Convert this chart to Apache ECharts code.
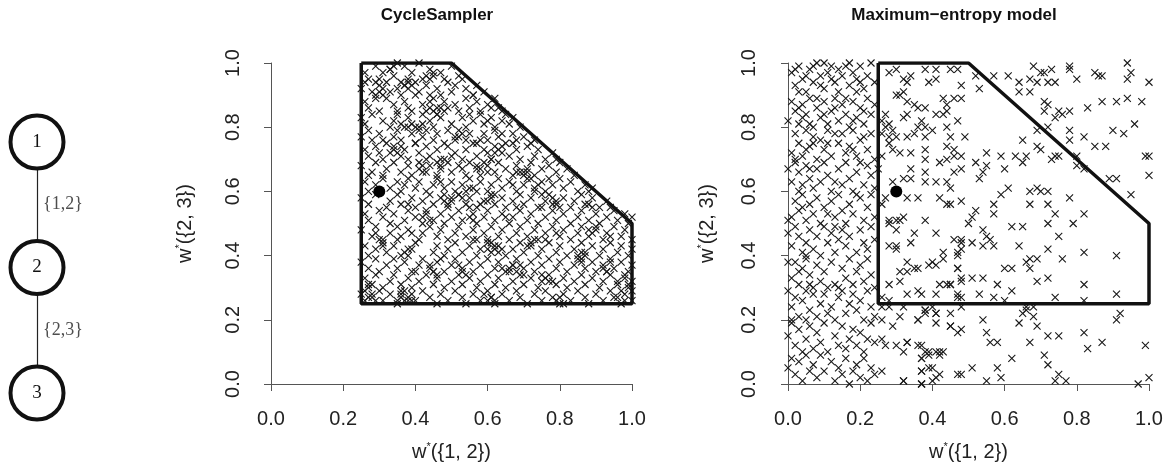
<!DOCTYPE html>
<html>
<head>
<meta charset="utf-8">
<script src="https://cdn.jsdelivr.net/npm/echarts@6/dist/echarts.min.js"></script>
<style>
  html, body { margin: 0; padding: 0; background: #fff; }
  #chart { width: 1172px; height: 470px; }
</style>
</head>
<body>
<div id="chart"></div>
<script>
// axis ticks (both panels use the unit square)
const ticks = [0, 0.2, 0.4, 0.6, 0.8, 1.0];

// feasible region drawn as a thick outline
const boxX = [0.25, 0.5, 1, 1, 0.25, 0.25];
const boxY = [1, 1, 0.5, 0.25, 0.25, 1];

// the single filled point
const truePoint = [0.3, 0.6];

// small path graph on the left
const graphNodes = ['1', '2', '3'];
const graphEdges = [['1', '2'], ['2', '3']];
const edgeLabels = ['{1,2}', '{2,3}'];

// samples, in hundredths: [w{1,2}, w{2,3}]
const cycleSamples = [
  [26,97],[29,99],[30,95],[33,98],[34,96],[37,99],[38,95],[39,97],[41,100],[43,96],[44,98],[47,97],[48,95],[50,99],[52,96],[27,95],[35,100],[45,96],[31,97],[42,95],
  [25,92],[26,94],[28,91],[30,93],[31,90],[32,94],[35,92],[36,90],[37,93],[40,94],[41,91],[43,93],[44,90],[46,92],[49,94],[50,91],[51,93],[53,95],[54,92],[56,90],[57,93],[59,91],[33,91],[38,94],[47,90],[29,94],
  [26,88],[27,86],[30,85],[32,89],[34,87],[35,85],[37,88],[38,86],[40,90],[42,87],[43,85],[45,89],[46,86],[48,88],[51,87],[52,85],[54,89],[55,86],[57,88],[58,85],[60,87],[62,89],[63,86],[64,85],[44,88],[39,85],[49,86],[29,89],[56,90],[61,86],
  [25,83],[26,81],[28,84],[31,82],[33,80],[35,84],[36,81],[38,83],[39,81],[41,80],[42,84],[44,82],[45,80],[47,83],[48,85],[50,81],[53,83],[54,80],[56,82],[58,84],[59,81],[61,83],[62,80],[64,82],[66,81],[67,83],[69,80],[37,80],[46,84],[55,84],[60,82],[65,84],[34,82],
  [25,77],[27,79],[28,76],[30,78],[32,75],[34,77],[35,79],[36,76],[39,78],[40,75],[42,77],[43,79],[45,76],[46,78],[48,75],[51,77],[52,79],[54,76],[55,78],[57,75],[59,78],[60,76],[62,79],[63,77],[65,75],[67,78],[68,76],[70,77],[72,75],[73,76],[38,80],[49,79],[58,76],[64,78],[31,76],
  [26,73],[27,71],[29,74],[31,70],[33,72],[34,74],[36,71],[37,73],[38,70],[41,72],[43,74],[44,71],[46,73],[47,70],[49,74],[51,72],[53,70],[54,73],[56,75],[57,71],[59,73],[61,70],[62,74],[64,72],[66,71],[68,73],[69,70],[71,74],[73,71],[74,73],[76,70],[78,72],[79,70],[40,75],[50,71],[60,72],[67,75],[30,72],
  [25,68],[28,66],[29,69],[31,65],[32,67],[34,69],[36,66],[38,68],[39,65],[41,69],[42,66],[44,68],[46,65],[47,67],[49,69],[50,66],[52,68],[54,65],[55,69],[57,67],[58,65],[60,68],[62,66],[63,69],[65,67],[67,65],[68,68],[70,66],[72,69],[73,65],[75,67],[77,68],[79,66],[80,69],[82,67],[84,65],[43,70],[53,67],[61,70],[71,67],[27,65],
  [26,63],[27,60],[29,62],[31,64],[33,61],[35,63],[36,60],[38,64],[40,61],[41,63],[43,60],[45,62],[46,64],[48,61],[50,63],[51,60],[53,62],[55,64],[56,61],[58,63],[60,60],[61,62],[63,64],[64,61],[66,63],[68,60],[70,62],[71,64],[73,61],[75,63],[76,60],[78,62],[80,64],[81,61],[83,63],[85,60],[87,62],[88,60],[89,61],[37,62],[47,63],[57,60],[67,62],[77,64],
  [25,58],[27,56],[29,59],[32,55],[33,57],[35,59],[36,56],[39,58],[40,55],[42,57],[44,59],[45,56],[47,58],[49,55],[50,57],[52,59],[54,56],[55,58],[57,55],[59,57],[61,59],[62,56],[64,58],[65,55],[67,57],[69,59],[70,56],[72,58],[74,55],[76,57],[77,59],[79,56],[81,58],[83,55],[84,57],[86,59],[88,56],[89,58],[91,55],[93,57],[94,55],[38,56],[48,59],[58,56],[68,55],[78,58],[87,56],
  [26,53],[27,51],[30,54],[31,52],[33,50],[34,53],[37,51],[38,54],[40,52],[42,50],[43,54],[45,51],[47,53],[48,50],[50,52],[52,54],[53,51],[56,53],[57,50],[59,52],[60,54],[62,51],[64,53],[66,50],[67,52],[69,54],[71,51],[72,53],[74,50],[76,52],[78,54],[79,51],[81,53],[83,50],[85,52],[86,54],[88,51],[90,53],[91,50],[93,52],[95,54],[96,51],[98,53],[99,50],[100,52],[55,55],[65,52],[75,55],[89,55],
  [25,48],[28,46],[29,49],[31,45],[33,47],[35,49],[36,46],[38,48],[41,45],[42,47],[44,49],[46,46],[47,48],[49,45],[51,47],[52,49],[54,46],[56,48],[57,45],[59,47],[61,49],[63,46],[64,48],[66,45],[68,47],[69,49],[71,46],[73,48],[74,45],[76,47],[78,49],[80,46],[81,48],[83,45],[85,47],[86,49],[88,46],[90,48],[92,45],[93,47],[95,49],[97,46],[98,48],[100,45],[39,47],[60,45],[79,47],[94,46],
  [26,43],[27,40],[29,42],[31,44],[32,41],[34,43],[36,40],[38,42],[40,44],[45,41],[46,43],[48,40],[49,42],[51,44],[53,41],[55,43],[57,40],[58,42],[60,44],[61,41],[62,42],[63,43],[65,40],[67,42],[69,44],[70,41],[72,43],[74,40],[75,42],[77,44],[79,41],[80,43],[82,40],[84,42],[86,44],[87,41],[89,43],[91,40],[92,42],[94,44],[96,41],[97,43],[99,40],[100,42],[35,45],[56,45],[76,45],[85,39],
  [25,38],[27,36],[29,39],[30,35],[32,37],[34,39],[35,36],[37,38],[39,35],[41,37],[42,39],[44,36],[46,38],[48,35],[50,37],[51,39],[53,36],[55,38],[56,35],[58,37],[60,39],[62,36],[63,38],[65,35],[67,37],[68,39],[70,36],[72,38],[73,35],[75,37],[77,39],[79,36],[80,38],[82,35],[84,37],[86,39],[87,36],[89,38],[90,35],[92,37],[94,39],[95,36],[97,38],[99,35],[100,37],[45,35],[64,36],[93,35],[47,39],
  [26,33],[28,31],[29,34],[31,30],[33,32],[34,34],[36,31],[38,33],[39,30],[41,32],[43,34],[45,31],[46,33],[48,30],[50,32],[52,34],[53,31],[55,33],[57,30],[58,32],[60,34],[62,31],[63,33],[65,30],[67,32],[69,34],[70,31],[72,33],[74,30],[75,32],[77,34],[79,31],[81,33],[82,30],[84,32],[86,34],[87,31],[89,33],[91,30],[92,32],[94,34],[96,31],[98,33],[99,30],[100,32],[40,35],[66,35],[78,32],
  [25,28],[26,26],[28,27],[30,29],[31,26],[33,28],[35,25],[36,27],[37,29],[38,26],[39,28],[40,26],[42,29],[44,27],[46,25],[47,28],[49,26],[51,29],[53,27],[54,25],[56,28],[58,26],[60,29],[61,27],[62,25],[64,28],[66,26],[68,29],[69,27],[71,25],[73,28],[75,26],[76,29],[78,27],[80,25],[81,28],[83,26],[85,29],[87,27],[88,25],[90,28],[92,26],[94,29],[95,27],[97,25],[98,28],[100,26],[100,29],[27,30],
  // visible clumps
  [27,27],[28,28],[26,29],[29,26],[27,31],[35,26],[36,28],[37,26],[38,27],[36,29],[39,26],[60,26],[61,27],[59,28],[62,26],[79,26],[80,27],[81,25],
  [96,27],[97,29],[98,26],[99,31],[96,32],[98,34],[93,35],[94,38],[92,36],[85,40],[86,38],[87,40],[86,41],[60,42],[62,43],[63,41],[61,44],[64,42],
  [67,37],[68,35],[69,37],[66,36],[70,34],[72,44],[73,45],[71,43],[45,35],[46,34],[44,37],[53,35],[52,37],[54,34],[30,45],[31,43],[29,47],[38,40],[39,42],[37,41],
  [43,53],[44,51],[42,52],[48,57],[50,58],[49,56],[53,58],[54,60],[52,59],[55,61],[61,58],[62,59],[60,57],[70,65],[71,66],[69,66],[72,64],[68,66],[73,60],[74,62],[75,59],
  [78,56],[80,55],[79,57],[58,67],[59,69],[57,68],[60,66],[47,68],[48,70],[46,69],[42,68],[43,66],[41,67],[35,72],[36,74],[34,73],[41,79],[42,81],[40,80],
  [45,85],[46,84],[47,86],[44,86],[37,93],[38,92],[36,94],[39,93],[30,91],[31,92],[29,90],[33,98],[34,99],[44,95],[45,97],[52,77],[53,78],[51,76],[63,73],[64,74],[62,72],
  [55,52],[56,51],[88,48],[89,47],[90,49],[76,33],[77,32],[75,34]
];

const maxEntSamples = [
  // dense strip, w{1,2} < 0.25
  [1,97],[2,93],[3,99],[4,95],[5,91],[6,98],[7,94],[8,100],[9,96],[10,92],[11,97],[12,99],[13,94],[14,91],[15,96],[16,99],[17,93],[18,97],[19,95],[20,99],[21,92],[22,96],[23,100],[24,94],[3,91],[5,96],[7,99],[9,93],[12,95],[14,98],[17,100],[19,91],[20,94],[2,98],[10,100],
  [0,82],[1,88],[2,85],[3,81],[4,87],[5,84],[6,89],[7,80],[8,86],[9,83],[10,88],[11,81],[12,85],[13,89],[14,82],[15,87],[16,84],[17,80],[18,88],[19,83],[20,86],[21,81],[22,89],[23,84],[24,87],[4,83],[6,81],[8,89],[10,84],[13,86],[16,89],[18,82],[21,85],[3,86],
  [1,72],[2,78],[3,75],[4,71],[5,79],[6,74],[7,77],[8,70],[9,76],[10,73],[11,79],[12,71],[14,75],[15,78],[16,72],[17,74],[18,79],[19,71],[20,76],[22,73],[23,78],[24,70],[2,70],[5,73],[7,75],[11,75],[13,78],[18,73],[21,77],
  [0,67],[1,63],[2,69],[3,66],[4,62],[5,68],[6,64],[7,61],[8,67],[9,63],[10,69],[11,65],[12,60],[14,67],[15,62],[16,69],[17,64],[18,60],[19,66],[21,62],[22,68],[23,65],[24,61],[3,60],[6,67],[13,63],[20,69],[25,67],
  [1,52],[2,57],[3,54],[4,59],[5,51],[6,56],[7,53],[8,58],[9,50],[10,55],[12,57],[13,52],[14,59],[15,54],[16,50],[17,56],[18,53],[20,58],[21,51],[22,55],[23,59],[24,52],[0,51],[4,55],[11,53],[19,59],
  [0,47],[1,43],[2,49],[3,46],[4,41],[5,44],[6,48],[7,42],[8,46],[9,40],[10,49],[11,44],[12,47],[13,41],[14,45],[15,48],[16,43],[17,46],[19,41],[20,48],[21,44],[22,42],[23,49],[24,45],[5,40],[13,49],
  [1,33],[2,38],[3,31],[4,36],[5,39],[6,34],[7,30],[8,37],[9,32],[10,35],[12,38],[13,31],[14,30],[15,36],[16,33],[17,39],[18,31],[19,35],[20,37],[21,32],[22,39],[23,34],[24,30],[0,38],[3,35],[6,31],[11,30],
  [0,29],[1,24],[2,27],[3,21],[4,26],[5,29],[6,23],[7,28],[8,21],[9,25],[10,28],[12,24],[13,20],[14,27],[15,29],[16,22],[17,25],[18,28],[19,23],[20,26],[21,20],[22,29],[23,24],[24,21],[1,20],[11,22],
  [0,15],[1,19],[2,12],[3,17],[4,10],[5,14],[6,18],[7,11],[8,16],[9,13],[10,19],[11,10],[13,15],[14,12],[15,18],[16,11],[17,14],[18,17],[19,12],[20,16],[21,10],[22,14],[23,19],[24,13],[5,20],
  [0,5],[1,8],[2,3],[3,7],[4,1],[5,9],[6,4],[7,6],[8,2],[9,9],[10,4],[12,7],[13,1],[14,5],[15,3],[16,8],[17,0],[18,4],[19,6],[20,2],[21,8],[22,1],[23,5],[24,3],
  // 0.25 to 0.5, upper half
  [28,97],[30,98],[32,95],[34,96],[33,94],[30,90],[31,90],[32,91],[33,88],[35,87],[38,98],[41,98],[39,94],[41,95],[45,98],[47,98],[48,93],[43,89],[44,87],[46,89],[48,89],[36,86],[38,86],[41,84],[44,85],[43,84],[33,84],[32,83],[27,84],[26,82],[27,80],[28,81],[26,78],[29,79],[28,77],[30,77],[33,77],[36,80],[35,78],[37,82],[38,80],[40,79],[38,77],[44,80],[47,82],[45,77],[44,74],[46,73],[49,77],[28,75],[29,73],[31,72],[34,72],[38,73],[38,70],[42,69],[44,70],[46,71],[48,71],[34,67],[38,66],[46,66],[48,67],[26,71],[29,63],[32,64],[34,64],[38,63],[41,63],[44,63],[45,61],[33,58],[36,58],[27,58],[26,56],[28,51],[30,51],[32,52],[38,51],[42,58],[44,56],[45,56],[48,57],
  // 0.25 to 0.5, lower half
  [28,50],[30,48],[31,51],[35,47],[34,44],[41,47],[30,43],[28,43],[30,42],[46,45],[48,44],[47,41],[43,41],[43,39],[40,38],[41,37],[39,37],[33,38],[35,36],[36,36],[31,35],[33,35],[31,32],[28,31],[33,28],[36,29],[37,28],[42,31],[44,31],[45,31],[47,36],[48,32],[48,27],[47,28],[41,28],[26,27],[28,26],
  [26,24],[28,24],[32,24],[31,21],[26,20],[36,20],[38,22],[41,22],[38,23],[40,24],[29,18],[45,18],[48,17],[33,13],[26,14],[27,12],[30,12],[32,10],[36,12],[38,10],[37,8],[39,9],[42,10],[37,4],[40,5],[42,3],[37,0],[32,1],[48,3],[26,4],
  // sparse right side
  [68,99],[78,99],[78,98],[94,100],[95,97],[94,95],[100,94],[86,96],[87,96],[85,97],[80,95],[70,97],[71,97],[73,98],[69,94],[72,94],[74,94],[67,95],[64,94],[61,96],[57,96],[53,92],[52,96],[64,91],[67,91],[71,88],[72,87],[87,88],[91,88],[94,89],[98,88],[83,86],[75,85],[74,83],[76,84],[78,85],[71,85],
  [93,78],[90,79],[96,81],[82,77],[85,74],[88,74],[78,79],[78,76],[74,71],[75,71],[73,70],[69,74],[70,73],[65,76],[72,80],[69,79],[80,71],[80,68],[82,67],[89,64],[91,64],[100,65],[99,71],[100,71],[95,59],[78,58],[82,53],[79,50],[72,56],[74,53],[72,50],[75,46],[72,42],[76,39],[82,41],[91,40],[82,31],[74,27],[82,26],[91,28],
  [69,61],[70,60],[72,60],[67,60],[65,49],[67,56],[67,39],[66,38],[67,36],[69,39],[72,33],[69,32],[64,43],[62,49],[62,36],[60,36],[58,31],[62,29],[60,26],[57,27],[54,33],[53,28],[51,33],[48,33],[47,36],[45,31],[47,27],
  [65,69],[60,67],[59,71],[63,71],[66,71],[55,68],[52,69],[54,66],[53,64],[55,72],[59,59],[61,61],[57,56],[54,48],[55,46],[56,45],[57,43],[51,52],[50,50],[52,54],[51,44],[54,43],[48,45],[48,42],[47,40],[57,53],
  [54,20],[55,16],[56,13],[58,13],[58,5],[59,2],[55,1],[51,5],[62,8],[64,19],[65,22],[66,24],[66,23],[68,24],[68,21],[69,18],[67,13],[71,9],[72,6],[72,15],[75,15],[75,3],[74,1],[77,1],[82,16],[83,11],[87,13],[91,20],[92,22],[99,12],[100,2],[97,0],
  [48,24],[45,22],[47,16],[45,18],[47,3],[43,10],[41,10],[39,10],[42,9],[41,2],[40,1],[39,5],[37,12],[37,8],[37,4],[37,0],[32,1],[33,13],[41,22],[41,19],[38,23],[36,20]
];

const FONT = '"Liberation Sans", Arial, Helvetica, sans-serif';
const SERIF = '"Liberation Serif", "DejaVu Serif", serif';
const AXIS_GREY = '#555';

const toUnit = p => [p[0] / 100, p[1] / 100];

function xAxisFor(grid) {
  return {
    gridIndex: grid, type: 'value', min: ticks[0], max: ticks[ticks.length - 1], interval: 0.2,
    position: 'bottom', offset: 13,
    axisLine: { lineStyle: { color: AXIS_GREY, width: 1 } },
    axisTick: { length: 7, lineStyle: { color: AXIS_GREY, width: 1 } },
    axisLabel: { fontSize: 20, fontFamily: FONT, color: '#222', margin: 12, formatter: v => v.toFixed(1) },
    splitLine: { show: false },
    name: 'w{s|*}({1, 2})', nameLocation: 'middle', nameGap: 44,
    nameTextStyle: { fontSize: 20, fontFamily: FONT, color: '#222',
      rich: { s: { fontSize: 11, fontFamily: FONT, color: '#222', padding: [0, 0, 12, 0] } } }
  };
}

function yAxisFor(grid, offset, nameGap) {
  return {
    gridIndex: grid, type: 'value', min: ticks[0], max: ticks[ticks.length - 1], interval: 0.2,
    position: 'left', offset: offset,
    axisLine: { lineStyle: { color: AXIS_GREY, width: 1 } },
    axisTick: { length: 7, lineStyle: { color: AXIS_GREY, width: 1 } },
    axisLabel: { fontSize: 20, fontFamily: FONT, color: '#222', margin: 14, rotate: 90, formatter: v => v.toFixed(1) },
    splitLine: { show: false },
    name: 'w{s|*}({2, 3})', nameLocation: 'middle', nameGap: nameGap,
    nameTextStyle: { fontSize: 20, fontFamily: FONT, color: '#222',
      rich: { s: { fontSize: 11, fontFamily: FONT, color: '#222', padding: [0, 0, 12, 0] } } }
  };
}

function samplesSeries(grid, pts) {
  return {
    type: 'scatter', xAxisIndex: grid, yAxisIndex: grid,
    symbol: 'path://M0,0L10,10M10,0L0,10', symbolSize: 7,
    itemStyle: { color: 'transparent', borderColor: '#1a1a1a', borderWidth: 1.1, opacity: 1 },
    data: pts.map(toUnit), silent: true, z: 2
  };
}

function boxSeries(grid) {
  return {
    type: 'line', xAxisIndex: grid, yAxisIndex: grid, symbol: 'none',
    lineStyle: { color: '#111', width: 3.5 },
    data: boxX.map((x, i) => [x, boxY[i]]), z: 5, silent: true
  };
}

function dotSeries(grid) {
  return {
    type: 'scatter', xAxisIndex: grid, yAxisIndex: grid, symbol: 'circle', symbolSize: 12,
    itemStyle: { color: '#000', opacity: 1 }, data: [truePoint], z: 6, silent: true
  };
}

const chart = echarts.init(document.getElementById('chart'));

chart.setOption({
  animation: false,
  backgroundColor: '#fff',
  graphic: [
    { type: 'text', x: 437, y: 15, style: { text: 'CycleSampler', font: 'bold 17px ' + FONT, fill: '#111', align: 'center', verticalAlign: 'middle' } },
    { type: 'text', x: 954, y: 15, style: { text: 'Maximum\u2212entropy model', font: 'bold 17px ' + FONT, fill: '#111', align: 'center', verticalAlign: 'middle' } }
  ],
  grid: [
    { left: 271, width: 361, top: 63, height: 321 },
    { left: 788, width: 361, top: 63, height: 321 },
    { left: 0, width: 74, top: 142, height: 251 }
  ],
  xAxis: [
    xAxisFor(0),
    xAxisFor(1),
    { gridIndex: 2, type: 'value', min: -1, max: 1, show: false }
  ],
  yAxis: [
    yAxisFor(0, 14, 60),
    yAxisFor(1, 15, 54),
    { gridIndex: 2, type: 'value', min: 1, max: graphNodes.length, inverse: true, show: false }
  ],
  series: [
    samplesSeries(0, cycleSamples),
    boxSeries(0),
    dotSeries(0),
    samplesSeries(1, maxEntSamples),
    boxSeries(1),
    dotSeries(1),
    {
      type: 'graph', coordinateSystem: 'cartesian2d', xAxisIndex: 2, yAxisIndex: 2,
      symbol: 'circle', symbolSize: 53,
      itemStyle: { color: '#fff', borderColor: '#111', borderWidth: 4, opacity: 1 },
      label: { show: true, position: 'inside', fontFamily: SERIF, fontSize: 19, color: '#111' },
      lineStyle: { color: '#222', width: 1.2, opacity: 1 },
      data: graphNodes.map((n, i) => ({ name: n, value: [0, i + 1] })),
      links: graphEdges.map(e => ({ source: e[0], target: e[1] })),
      silent: true, z: 3
    },
    {
      type: 'scatter', xAxisIndex: 2, yAxisIndex: 2, symbolSize: 0, silent: true,
      label: { show: true, position: 'right', distance: 6, fontFamily: SERIF, fontSize: 18, color: '#222',
        formatter: p => p.name },
      data: graphEdges.map((e, i) => ({
        name: edgeLabels[i],
        value: [0, (graphNodes.indexOf(e[0]) + graphNodes.indexOf(e[1])) / 2 + 1]
      }))
    }
  ]
});
</script>
</body>
</html>
